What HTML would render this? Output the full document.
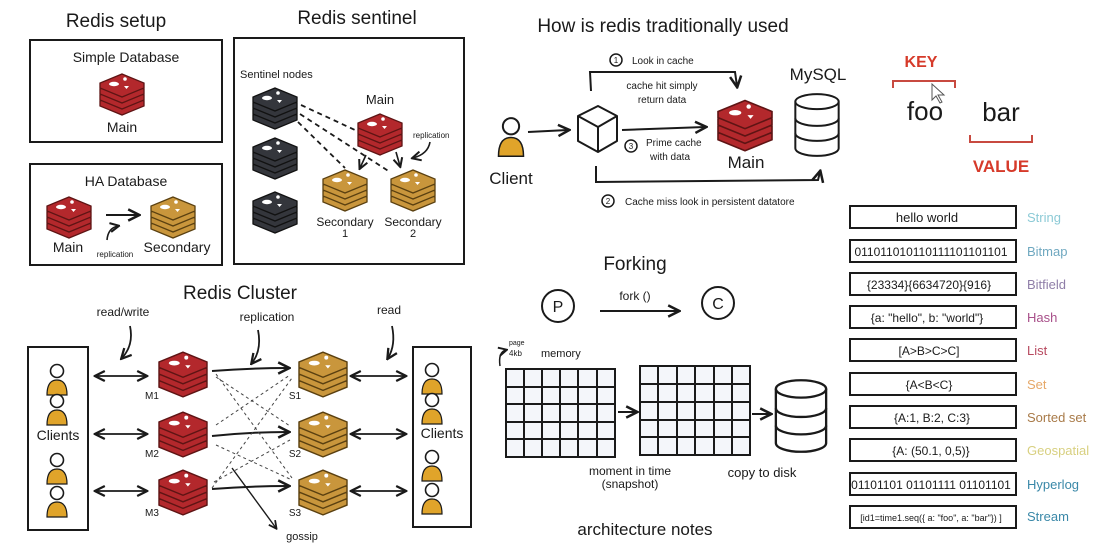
<!DOCTYPE html>
<html><head><meta charset="utf-8"><style>
html,body{margin:0;padding:0;background:#fff;}
svg{display:block;}
text{font-family:"Liberation Sans Narrow","Liberation Sans",sans-serif;fill:#1a1a1a;}
</style></head><body>
<svg width="1104" height="549" viewBox="0 0 1104 549" xmlns="http://www.w3.org/2000/svg">
<defs>
<marker id="ah" viewBox="0 0 10 10" refX="8" refY="5" markerWidth="7" markerHeight="7" orient="auto-start-reverse"><path d="M1,1 L9,5 L1,9" fill="none" stroke="#1a1a1a" stroke-width="1.8"/></marker>
<g id="slices">
<polygon points="24,20 46,29 46,34 24,43 2,34 2,29"/>
<polygon points="24,14 46,23 46,28 24,37 2,28 2,23"/>
<polygon points="24,8 46,17 46,22 24,31 2,22 2,17"/>
<polygon points="24,2 46,11 46,16 24,25 2,16 2,11"/>
</g>
<symbol id="red" viewBox="0 0 48 44"><g fill="#b3282c" stroke="#5e1414" stroke-width="1.3"><use href="#slices"/></g><ellipse cx="16" cy="12" rx="5" ry="2.2" fill="#fff"/><circle cx="27" cy="7" r="1.8" fill="#fff"/><polygon points="26,14 31,14 28.5,17" fill="#fff"/></symbol>
<symbol id="gold" viewBox="0 0 48 44"><g fill="#c9963c" stroke="#5a4010" stroke-width="1.3"><use href="#slices"/></g><ellipse cx="16" cy="12" rx="5" ry="2.2" fill="#fff"/><circle cx="27" cy="7" r="1.8" fill="#fff"/><polygon points="26,14 31,14 28.5,17" fill="#fff"/></symbol>
<symbol id="dark" viewBox="0 0 48 44"><g fill="#34363c" stroke="#111" stroke-width="1.3"><use href="#slices"/></g><ellipse cx="16" cy="12" rx="5" ry="2.2" fill="#fff"/><circle cx="27" cy="7" r="1.8" fill="#fff"/><polygon points="26,14 31,14 28.5,17" fill="#fff"/></symbol>
<symbol id="person" viewBox="0 0 24 34"><circle cx="12" cy="8" r="6.5" fill="#fff" stroke="#1a1a1a" stroke-width="1.6"/><path d="M2,32 Q2,17 12,17 Q22,17 22,32 Z" fill="#e0a42a" stroke="#1a1a1a" stroke-width="1.2"/></symbol>
<symbol id="db" viewBox="0 0 60 80"><g fill="#fff" stroke="#1a1a1a" stroke-width="2.4"><path d="M4,12 L4,68 A26,9 0 0 0 56,68 L56,12"/><ellipse cx="30" cy="12" rx="26" ry="9"/><path d="M4,32 A26,9 0 0 0 56,32" fill="none"/><path d="M4,50 A26,9 0 0 0 56,50" fill="none"/></g></symbol>
</defs>

<g fill="none" stroke="#1a1a1a" stroke-width="2">
<!-- setup boxes -->
<rect x="30" y="40" width="192" height="102"/>
<rect x="30" y="164" width="192" height="101"/>
<rect x="234" y="38" width="230" height="226"/>
<!-- cluster client boxes -->
<rect x="28" y="347" width="60" height="183"/>
<rect x="413" y="347" width="58" height="180"/>
</g>

<g font-size="19" text-anchor="middle">
<text x="116" y="27">Redis setup</text>
<text x="357" y="24">Redis sentinel</text>
<text x="240" y="299">Redis Cluster</text>
<text x="663" y="32">How is redis traditionally used</text>
<text x="635" y="270">Forking</text>
</g>

<!-- Redis setup -->
<text x="126" y="62" font-size="14" text-anchor="middle">Simple Database</text>
<use href="#red" x="97" y="72" width="50" height="44"/>
<text x="122" y="132" font-size="14" text-anchor="middle">Main</text>
<text x="126" y="186" font-size="14" text-anchor="middle">HA Database</text>
<use href="#red" x="44" y="195" width="50" height="44"/>
<use href="#gold" x="148" y="195" width="50" height="44"/>
<line x1="106" y1="215" x2="138" y2="215" stroke="#1a1a1a" stroke-width="2" marker-end="url(#ah)"/>
<path d="M107,240 Q108,228 118,226" fill="none" stroke="#1a1a1a" stroke-width="1.6" marker-end="url(#ah)"/>
<text x="68" y="252" font-size="14" text-anchor="middle">Main</text>
<text x="115" y="257" font-size="8" text-anchor="middle">replication</text>
<text x="177" y="252" font-size="14" text-anchor="middle">Secondary</text>

<!-- sentinel -->
<text x="240" y="78" font-size="11">Sentinel nodes</text>
<use href="#dark" x="251" y="86" width="48" height="44"/>
<use href="#dark" x="251" y="136" width="48" height="44"/>
<use href="#dark" x="251" y="190" width="48" height="44"/>
<text x="380" y="104" font-size="13" text-anchor="middle">Main</text>
<use href="#red" x="355" y="112" width="50" height="44"/>
<use href="#gold" x="320" y="168" width="50" height="44"/>
<use href="#gold" x="388" y="168" width="50" height="44"/>
<g stroke="#1a1a1a" stroke-width="1.8" stroke-dasharray="5,4" fill="none">
<line x1="301" y1="105" x2="355" y2="130"/>
<line x1="300" y1="114" x2="390" y2="172"/>
<line x1="298" y1="122" x2="345" y2="168"/>
</g>
<g stroke="#1a1a1a" stroke-width="1.6" fill="none" marker-end="url(#ah)">
<line x1="366" y1="155" x2="360" y2="168"/>
<line x1="396" y1="152" x2="400" y2="166"/>
<path d="M430,142 Q428,154 413,158"/>
</g>
<text x="413" y="138" font-size="8">replication</text>
<text x="345" y="226" font-size="12" text-anchor="middle">Secondary</text>
<text x="345" y="237" font-size="11" text-anchor="middle">1</text>
<text x="413" y="226" font-size="12" text-anchor="middle">Secondary</text>
<text x="413" y="237" font-size="11" text-anchor="middle">2</text>

<!-- cluster -->
<text x="123" y="316" font-size="12" text-anchor="middle">read/write</text>
<text x="267" y="321" font-size="12" text-anchor="middle">replication</text>
<text x="389" y="314" font-size="12" text-anchor="middle">read</text>
<g stroke="#1a1a1a" stroke-width="1.8" fill="none" marker-end="url(#ah)">
<path d="M130,326 Q134,345 122,358"/>
<path d="M258,330 Q262,350 252,363"/>
<path d="M392,326 Q396,345 388,358"/>
</g>
<use href="#person" x="45" y="363" width="24" height="34"/>
<use href="#person" x="45" y="393" width="24" height="34"/>
<use href="#person" x="45" y="452" width="24" height="34"/>
<use href="#person" x="45" y="485" width="24" height="34"/>
<text x="58" y="440" font-size="14" text-anchor="middle">Clients</text>
<use href="#person" x="420" y="362" width="24" height="34"/>
<use href="#person" x="420" y="392" width="24" height="34"/>
<use href="#person" x="420" y="449" width="24" height="34"/>
<use href="#person" x="420" y="482" width="24" height="34"/>
<text x="442" y="438" font-size="14" text-anchor="middle">Clients</text>
<use href="#red" x="156" y="350" width="54" height="48"/>
<use href="#red" x="156" y="410" width="54" height="48"/>
<use href="#red" x="156" y="468" width="54" height="48"/>
<use href="#gold" x="296" y="350" width="54" height="48"/>
<use href="#gold" x="296" y="410" width="54" height="48"/>
<use href="#gold" x="296" y="468" width="54" height="48"/>
<g font-size="10" text-anchor="middle">
<text x="152" y="399">M1</text><text x="152" y="457">M2</text><text x="152" y="516">M3</text>
<text x="295" y="399">S1</text><text x="295" y="457">S2</text><text x="295" y="516">S3</text>
<text x="302" y="540" font-size="11">gossip</text>
</g>
<g stroke="#1a1a1a" stroke-width="1.8" fill="none" marker-end="url(#ah)" marker-start="url(#ah)">
<line x1="96" y1="376" x2="146" y2="376"/>
<line x1="96" y1="434" x2="146" y2="434"/>
<line x1="96" y1="491" x2="146" y2="491"/>
<line x1="352" y1="376" x2="405" y2="376"/>
<line x1="352" y1="434" x2="405" y2="434"/>
<line x1="352" y1="491" x2="405" y2="491"/>
</g>
<g stroke="#1a1a1a" stroke-width="2" fill="none" marker-end="url(#ah)">
<path d="M212,371 Q250,368 288,368"/>
<path d="M212,436 Q250,432 288,432"/>
<path d="M212,489 Q250,486 288,486"/>
<line x1="232" y1="468" x2="276" y2="528" stroke-width="1.4"/>
</g>
<g stroke="#444" stroke-width="1" stroke-dasharray="3,3" fill="none">
<line x1="216" y1="374" x2="292" y2="478"/>
<line x1="216" y1="377" x2="290" y2="426"/>
<line x1="216" y1="425" x2="290" y2="375"/>
<line x1="216" y1="445" x2="292" y2="480"/>
<line x1="212" y1="488" x2="292" y2="378"/>
<line x1="214" y1="482" x2="290" y2="440"/>
</g>

<!-- how redis used -->
<use href="#person" x="496" y="115" width="30" height="45"/>
<text x="511" y="184" font-size="17" text-anchor="middle">Client</text>
<line x1="528" y1="132" x2="568" y2="130" stroke="#1a1a1a" stroke-width="2" marker-end="url(#ah)"/>
<g fill="#fff" stroke="#1a1a1a" stroke-width="2" stroke-linejoin="round">
<polygon points="598,106 617,116 617,141 598,152 578,141 578,116"/>
<polyline points="578,116 598,127 617,116" fill="none"/><line x1="598" y1="127" x2="598" y2="152"/>
</g>
<path d="M591,91 L590,72 L735,72 L737,86" fill="none" stroke="#1a1a1a" stroke-width="2" marker-end="url(#ah)"/>
<circle cx="616" cy="60" r="6" fill="none" stroke="#1a1a1a" stroke-width="1.5"/><text x="616" y="63" font-size="8" text-anchor="middle">1</text>
<text x="632" y="64" font-size="10">Look in cache</text>
<text x="662" y="89" font-size="10" text-anchor="middle">cache hit simply</text>
<text x="662" y="103" font-size="10" text-anchor="middle">return data</text>
<line x1="622" y1="130" x2="705" y2="127" stroke="#1a1a1a" stroke-width="2" marker-end="url(#ah)"/>
<circle cx="631" cy="146" r="6" fill="none" stroke="#1a1a1a" stroke-width="1.5"/><text x="631" y="149" font-size="8" text-anchor="middle">3</text>
<text x="646" y="146" font-size="10">Prime cache</text>
<text x="650" y="160" font-size="10">with data</text>
<use href="#red" x="715" y="98" width="60" height="54"/>
<text x="746" y="168" font-size="17" text-anchor="middle">Main</text>
<text x="818" y="80" font-size="17" text-anchor="middle">MySQL</text>
<use href="#db" x="792" y="85" width="50" height="80"/>
<path d="M596,166 L596,182 L818,180 L820,172" fill="none" stroke="#1a1a1a" stroke-width="2" marker-end="url(#ah)"/>
<circle cx="608" cy="201" r="6" fill="none" stroke="#1a1a1a" stroke-width="1.5"/><text x="608" y="204" font-size="8" text-anchor="middle">2</text>
<text x="625" y="205" font-size="10">Cache miss look in persistent datatore</text>

<!-- key value -->
<text x="921" y="67" font-size="16" font-weight="bold" fill="#d63a2a" text-anchor="middle" style="fill:#d63a2a">KEY</text>
<path d="M893,88 L893,81 L955,81 L955,88" fill="none" stroke="#c84a40" stroke-width="2"/>
<text x="925" y="120" font-size="26" text-anchor="middle">foo</text>
<text x="1001" y="121" font-size="26" text-anchor="middle">bar</text>
<path d="M970,135 L970,142 L1032,142 L1032,135" fill="none" stroke="#c84a40" stroke-width="2"/>
<text x="1001" y="172" font-size="17" font-weight="bold" text-anchor="middle" style="fill:#d63a2a">VALUE</text>
<path d="M932,84 L932,100 L936,96 L940,103 L942,102 L938,95 L944,95 Z" fill="#fff" stroke="#555" stroke-width="1"/>

<!-- data types -->
<g fill="#fff" stroke="#1a1a1a" stroke-width="2">
<rect x="850" y="206" width="166" height="22"/>
<rect x="850" y="240" width="166" height="22"/>
<rect x="850" y="273" width="166" height="22"/>
<rect x="850" y="306" width="166" height="22"/>
<rect x="850" y="339" width="166" height="22"/>
<rect x="850" y="373" width="166" height="22"/>
<rect x="850" y="406" width="166" height="22"/>
<rect x="850" y="439" width="166" height="22"/>
<rect x="850" y="473" width="166" height="22"/>
<rect x="850" y="506" width="166" height="22"/>
</g>
<g font-size="13" text-anchor="middle">
<text x="927" y="222">hello world</text>
<text x="931" y="256" font-size="12">0110110101101111011​01101</text>
<text x="929" y="289" font-size="12">{23334}{6634720}{916}</text>
<text x="927" y="322" font-size="12">{a: "hello", b: "world"}</text>
<text x="929" y="355" font-size="12">[A&gt;B&gt;C&gt;C]</text>
<text x="929" y="389" font-size="12">{A&lt;B&lt;C}</text>
<text x="932" y="422" font-size="12">{A:1, B:2, C:3}</text>
<text x="931" y="455" font-size="12">{A: (50.1, 0,5)}</text>
<text x="931" y="489" font-size="12">01101101 01101111 01101101</text>
<text x="931" y="521" font-size="9">[id1=time1.seq({ a: "foo", a: "bar"}) ]</text>
</g>
<g font-size="13">
<text x="1027" y="222" style="fill:#8ccad6">String</text>
<text x="1027" y="256" style="fill:#6fa8c0">Bitmap</text>
<text x="1027" y="289" style="fill:#8f7ea8">Bitfield</text>
<text x="1027" y="322" style="fill:#a8508a">Hash</text>
<text x="1027" y="355" style="fill:#b84a60">List</text>
<text x="1027" y="389" style="fill:#e6a868">Set</text>
<text x="1027" y="422" style="fill:#a87a48">Sorted set</text>
<text x="1027" y="455" style="fill:#d8d080">Geospatial</text>
<text x="1027" y="489" style="fill:#3a88a8">Hyperlog</text>
<text x="1027" y="521" style="fill:#3a88a8">Stream</text>
</g>

<!-- forking -->
<circle cx="558" cy="306" r="16" fill="none" stroke="#1a1a1a" stroke-width="2"/>
<text x="558" y="312" font-size="16" text-anchor="middle">P</text>
<circle cx="718" cy="303" r="16" fill="none" stroke="#1a1a1a" stroke-width="2"/>
<text x="718" y="309" font-size="16" text-anchor="middle">C</text>
<line x1="600" y1="311" x2="678" y2="311" stroke="#1a1a1a" stroke-width="2" marker-end="url(#ah)"/>
<text x="635" y="300" font-size="12" text-anchor="middle">fork ()</text>
<text x="509" y="345" font-size="7">page</text>
<text x="509" y="356" font-size="8">4kb</text>
<text x="541" y="357" font-size="11">memory</text>
<path d="M500,366 Q498,352 506,350" fill="none" stroke="#1a1a1a" stroke-width="1.5" marker-end="url(#ah)"/>
<g stroke="#1a1a1a" stroke-width="2" fill="#f4f6fa">
<rect x="506" y="369" width="109" height="88"/>
<rect x="640" y="366" width="110" height="89"/>
</g>
<g stroke="#1a1a1a" stroke-width="2">
<line x1="524" y1="369" x2="524" y2="457"/><line x1="542" y1="369" x2="542" y2="457"/><line x1="560" y1="369" x2="560" y2="457"/><line x1="578" y1="369" x2="578" y2="457"/><line x1="597" y1="369" x2="597" y2="457"/>
<line x1="506" y1="387" x2="615" y2="387"/><line x1="506" y1="404" x2="615" y2="404"/><line x1="506" y1="422" x2="615" y2="422"/><line x1="506" y1="439" x2="615" y2="439"/>
<line x1="658" y1="366" x2="658" y2="455"/><line x1="677" y1="366" x2="677" y2="455"/><line x1="695" y1="366" x2="695" y2="455"/><line x1="714" y1="366" x2="714" y2="455"/><line x1="732" y1="366" x2="732" y2="455"/>
<line x1="640" y1="384" x2="750" y2="384"/><line x1="640" y1="402" x2="750" y2="402"/><line x1="640" y1="420" x2="750" y2="420"/><line x1="640" y1="437" x2="750" y2="437"/>
</g>
<line x1="618" y1="412" x2="636" y2="412" stroke="#1a1a1a" stroke-width="2" marker-end="url(#ah)"/>
<line x1="752" y1="414" x2="770" y2="414" stroke="#1a1a1a" stroke-width="2" marker-end="url(#ah)"/>
<use href="#db" x="772" y="376" width="58" height="80"/>
<text x="630" y="475" font-size="12" text-anchor="middle">moment in time</text>
<text x="630" y="488" font-size="12" text-anchor="middle">(snapshot)</text>
<text x="762" y="477" font-size="13" text-anchor="middle">copy to disk</text>
<text x="645" y="535" font-size="17" text-anchor="middle">architecture notes</text>
</svg>
</body></html>
